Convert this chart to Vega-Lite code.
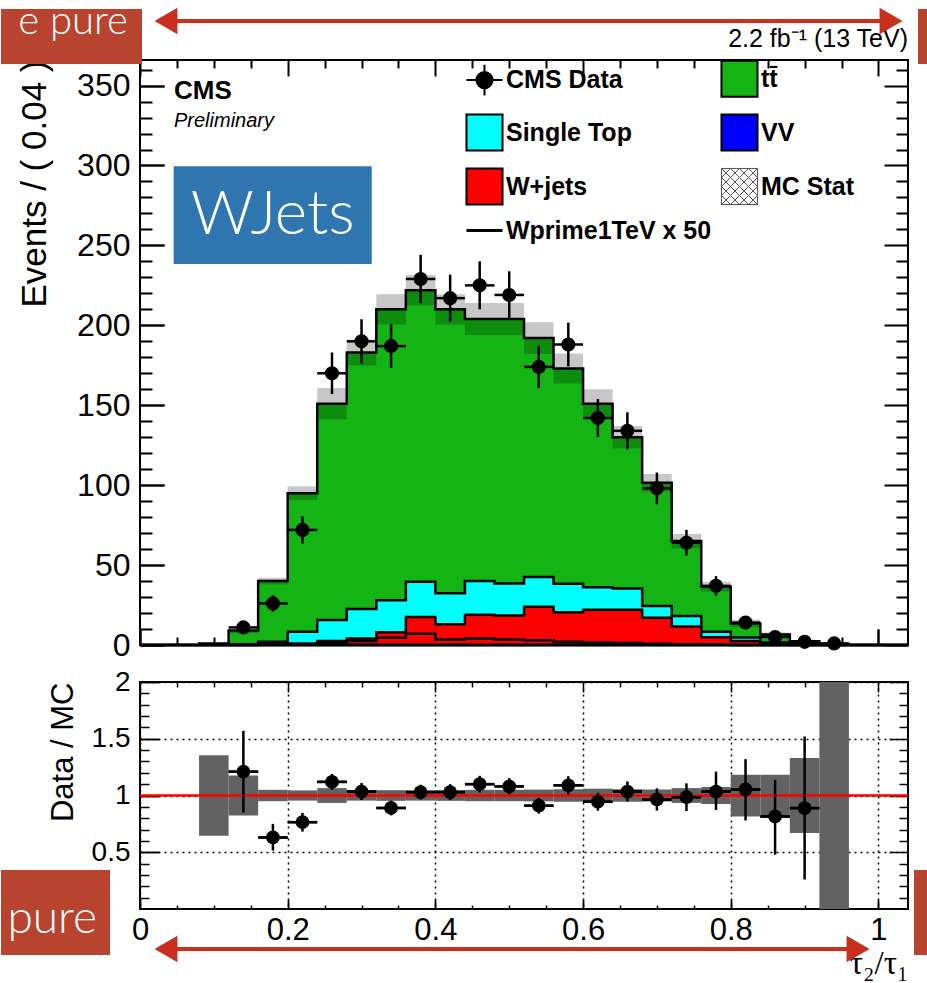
{
"$schema": "https://vega.github.io/schema/vega-lite/v6.json",
"background": "white",
"padding": 0,
"autosize": {"type": "pad"},
"bounds": "flush",
"spacing": 37,
"config": {
  "view": {"stroke": "black", "strokeWidth": 2, "fill": "white"},
  "axis": {"domain": false, "grid": false, "ticks": true, "tickColor": "black", "tickOpacity": 1, "labelColor": "black", "titleColor": "black", "labelFont": "Liberation Sans", "titleFont": "Liberation Sans", "titleFontWeight": "normal", "labelFlush": false, "labelOverlap": false},
  "text": {"font": "Liberation Sans"}
},
"datasets": {
  "hist": [
    {"x":0,"tt":0,"st":0,"wj":0,"vv":0,"wp":0},
    {"x":0.04,"tt":0,"st":0,"wj":0,"vv":0,"wp":0},
    {"x":0.08,"tt":1,"st":0,"wj":0,"vv":0,"wp":0},
    {"x":0.12,"tt":9,"st":0.4,"wj":0.1,"vv":0,"wp":0},
    {"x":0.16,"tt":40,"st":2,"wj":0.3,"vv":0.1,"wp":0.2},
    {"x":0.2,"tt":95,"st":8.3,"wj":1,"vv":0.1,"wp":0.5},
    {"x":0.24,"tt":151,"st":15.6,"wj":2.5,"vv":0.3,"wp":1.2},
    {"x":0.28,"tt":183,"st":22.5,"wj":4,"vv":0.3,"wp":2.5},
    {"x":0.32,"tt":210,"st":28,"wj":8,"vv":0.3,"wp":4.5},
    {"x":0.36,"tt":222,"st":39.5,"wj":17.5,"vv":0.3,"wp":7},
    {"x":0.4,"tt":210,"st":32.3,"wj":13,"vv":0.3,"wp":3.5},
    {"x":0.44,"tt":204,"st":40,"wj":19,"vv":0.3,"wp":4},
    {"x":0.48,"tt":204,"st":38.5,"wj":18.5,"vv":0.3,"wp":3.5},
    {"x":0.52,"tt":192,"st":42.5,"wj":24,"vv":0.3,"wp":3},
    {"x":0.56,"tt":173,"st":38.3,"wj":20.5,"vv":0.3,"wp":2},
    {"x":0.6,"tt":151,"st":36.2,"wj":22,"vv":0.3,"wp":1.5},
    {"x":0.64,"tt":130,"st":35.4,"wj":22,"vv":0.3,"wp":1.2},
    {"x":0.68,"tt":101.5,"st":24.4,"wj":17,"vv":0.3,"wp":0.8},
    {"x":0.72,"tt":65,"st":18.1,"wj":11.5,"vv":0.3,"wp":0.5},
    {"x":0.76,"tt":36.5,"st":8.3,"wj":4.8,"vv":0.2,"wp":0.3},
    {"x":0.8,"tt":13.5,"st":4.7,"wj":2.5,"vv":0.1,"wp":0},
    {"x":0.84,"tt":6.6,"st":1.5,"wj":1,"vv":0.1,"wp":0},
    {"x":0.88,"tt":2.3,"st":0.7,"wj":0.5,"vv":0,"wp":0},
    {"x":0.92,"tt":0.4,"st":0,"wj":0,"vv":0,"wp":0},
    {"x":0.96,"tt":0,"st":0,"wj":0,"vv":0,"wp":0},
    {"x":1,"tt":0,"st":0,"wj":0,"vv":0,"wp":0},
    {"x":1.04,"tt":0,"st":0,"wj":0,"vv":0,"wp":0}
  ],
  "band": [
    {"x0":0.08,"x1":0.12,"lo":0.65,"hi":1.35},
    {"x0":0.12,"x1":0.16,"lo":7.4,"hi":10.6},
    {"x0":0.16,"x1":0.2,"lo":38,"hi":42},
    {"x0":0.2,"x1":0.24,"lo":90.7,"hi":99.3},
    {"x0":0.24,"x1":0.28,"lo":141.2,"hi":160.8},
    {"x0":0.28,"x1":0.32,"lo":175,"hi":191},
    {"x0":0.32,"x1":0.36,"lo":200.5,"hi":219.5},
    {"x0":0.36,"x1":0.4,"lo":212.5,"hi":231.5},
    {"x0":0.4,"x1":0.44,"lo":200.5,"hi":219.5},
    {"x0":0.44,"x1":0.48,"lo":194,"hi":214},
    {"x0":0.48,"x1":0.52,"lo":194,"hi":214},
    {"x0":0.52,"x1":0.56,"lo":182,"hi":202},
    {"x0":0.56,"x1":0.6,"lo":163.6,"hi":182.4},
    {"x0":0.6,"x1":0.64,"lo":142,"hi":160},
    {"x0":0.64,"x1":0.68,"lo":123,"hi":137},
    {"x0":0.68,"x1":0.72,"lo":96,"hi":107},
    {"x0":0.72,"x1":0.76,"lo":60.5,"hi":69.5},
    {"x0":0.76,"x1":0.8,"lo":33.5,"hi":39.5},
    {"x0":0.8,"x1":0.84,"lo":11.1,"hi":15.9},
    {"x0":0.84,"x1":0.88,"lo":5.4,"hi":7.8},
    {"x0":0.88,"x1":0.92,"lo":1.5,"hi":3.1},
    {"x0":0.92,"x1":0.96,"lo":0,"hi":0.8}
  ],
  "pts": [
    {"x":0.14,"n":11,"lo":7.7,"hi":14.3,"x0":0.12,"x1":0.16},
    {"x":0.18,"n":26,"lo":20.9,"hi":31.1,"x0":0.16,"x1":0.2},
    {"x":0.22,"n":72,"lo":63.5,"hi":80.5,"x0":0.2,"x1":0.24},
    {"x":0.26,"n":170,"lo":157,"hi":183,"x0":0.24,"x1":0.28},
    {"x":0.3,"n":190,"lo":176.2,"hi":203.8,"x0":0.28,"x1":0.32},
    {"x":0.34,"n":187,"lo":173.3,"hi":200.7,"x0":0.32,"x1":0.36},
    {"x":0.38,"n":229,"lo":213.9,"hi":244.1,"x0":0.36,"x1":0.4},
    {"x":0.42,"n":217,"lo":202.3,"hi":231.7,"x0":0.4,"x1":0.44},
    {"x":0.46,"n":225,"lo":210,"hi":240,"x0":0.44,"x1":0.48},
    {"x":0.5,"n":219,"lo":204.2,"hi":233.8,"x0":0.48,"x1":0.52},
    {"x":0.54,"n":174,"lo":160.8,"hi":187.2,"x0":0.52,"x1":0.56},
    {"x":0.58,"n":188,"lo":174.3,"hi":201.7,"x0":0.56,"x1":0.6},
    {"x":0.62,"n":142,"lo":130.1,"hi":153.9,"x0":0.6,"x1":0.64},
    {"x":0.66,"n":134,"lo":122.4,"hi":145.6,"x0":0.64,"x1":0.68},
    {"x":0.7,"n":98,"lo":88.1,"hi":107.9,"x0":0.68,"x1":0.72},
    {"x":0.74,"n":64,"lo":56,"hi":72,"x0":0.72,"x1":0.76},
    {"x":0.78,"n":37,"lo":30.9,"hi":43.1,"x0":0.76,"x1":0.8},
    {"x":0.82,"n":14,"lo":10.3,"hi":17.7,"x0":0.8,"x1":0.84},
    {"x":0.86,"n":5,"lo":2.8,"hi":7.2,"x0":0.84,"x1":0.88},
    {"x":0.9,"n":2,"lo":0.6,"hi":3.4,"x0":0.88,"x1":0.92},
    {"x":0.94,"n":1,"lo":0,"hi":2,"x0":0.92,"x1":0.96}
  ],
  "ratio": [
    {"x":0.14,"r":1.21,"lo":0.85,"hi":1.57,"x0":0.12,"x1":0.16},
    {"x":0.18,"r":0.63,"lo":0.515,"hi":0.75,"x0":0.16,"x1":0.2},
    {"x":0.22,"r":0.765,"lo":0.682,"hi":0.847,"x0":0.2,"x1":0.24},
    {"x":0.26,"r":1.12,"lo":1.05,"hi":1.19,"x0":0.24,"x1":0.28},
    {"x":0.3,"r":1.035,"lo":0.96,"hi":1.11,"x0":0.28,"x1":0.32},
    {"x":0.34,"r":0.89,"lo":0.825,"hi":0.955,"x0":0.32,"x1":0.36},
    {"x":0.38,"r":1.03,"lo":0.965,"hi":1.095,"x0":0.36,"x1":0.4},
    {"x":0.42,"r":1.03,"lo":0.96,"hi":1.1,"x0":0.4,"x1":0.44},
    {"x":0.46,"r":1.1,"lo":1.027,"hi":1.173,"x0":0.44,"x1":0.48},
    {"x":0.5,"r":1.08,"lo":1.007,"hi":1.153,"x0":0.48,"x1":0.52},
    {"x":0.54,"r":0.91,"lo":0.84,"hi":0.98,"x0":0.52,"x1":0.56},
    {"x":0.58,"r":1.09,"lo":1.01,"hi":1.17,"x0":0.56,"x1":0.6},
    {"x":0.62,"r":0.945,"lo":0.866,"hi":1.024,"x0":0.6,"x1":0.64},
    {"x":0.66,"r":1.035,"lo":0.946,"hi":1.124,"x0":0.64,"x1":0.68},
    {"x":0.7,"r":0.965,"lo":0.867,"hi":1.063,"x0":0.68,"x1":0.72},
    {"x":0.74,"r":0.985,"lo":0.863,"hi":1.107,"x0":0.72,"x1":0.76},
    {"x":0.78,"r":1.035,"lo":0.873,"hi":1.21,"x0":0.76,"x1":0.8},
    {"x":0.82,"r":1.053,"lo":0.78,"hi":1.32,"x0":0.8,"x1":0.84},
    {"x":0.86,"r":0.815,"lo":0.479,"hi":1.138,"x0":0.84,"x1":0.88},
    {"x":0.9,"r":0.889,"lo":0.26,"hi":1.52,"x0":0.88,"x1":0.92}
  ],
  "rband": [
    {"x0":0.08,"x1":0.12,"lo":0.645,"hi":1.355},
    {"x0":0.12,"x1":0.16,"lo":0.823,"hi":1.176},
    {"x0":0.16,"x1":0.2,"lo":0.95,"hi":1.05},
    {"x0":0.2,"x1":0.24,"lo":0.955,"hi":1.045},
    {"x0":0.24,"x1":0.28,"lo":0.935,"hi":1.065},
    {"x0":0.28,"x1":0.32,"lo":0.955,"hi":1.045},
    {"x0":0.32,"x1":0.36,"lo":0.953,"hi":1.047},
    {"x0":0.36,"x1":0.4,"lo":0.955,"hi":1.045},
    {"x0":0.4,"x1":0.44,"lo":0.953,"hi":1.047},
    {"x0":0.44,"x1":0.48,"lo":0.95,"hi":1.05},
    {"x0":0.48,"x1":0.52,"lo":0.95,"hi":1.05},
    {"x0":0.52,"x1":0.56,"lo":0.948,"hi":1.052},
    {"x0":0.56,"x1":0.6,"lo":0.945,"hi":1.055},
    {"x0":0.6,"x1":0.64,"lo":0.94,"hi":1.06},
    {"x0":0.64,"x1":0.68,"lo":0.945,"hi":1.055},
    {"x0":0.68,"x1":0.72,"lo":0.948,"hi":1.052},
    {"x0":0.72,"x1":0.76,"lo":0.935,"hi":1.065},
    {"x0":0.76,"x1":0.8,"lo":0.925,"hi":1.075},
    {"x0":0.8,"x1":0.84,"lo":0.815,"hi":1.183},
    {"x0":0.84,"x1":0.88,"lo":0.815,"hi":1.183},
    {"x0":0.88,"x1":0.92,"lo":0.67,"hi":1.33},
    {"x0":0.92,"x1":0.96,"lo":0,"hi":2}
  ]
},
"vconcat": [
{
  "width": 768, "height": 585,
  "resolve": {"axis": {"x": "independent", "y": "independent"}},
  "layer": [
    {"data": {"name": "hist"},
     "mark": {"type": "area", "interpolate": "step-after", "stroke": "black", "strokeWidth": 2.5},
     "encoding": {
       "x": {"field": "x", "type": "quantitative", "scale": {"domain": [0,1.04], "nice": false, "zero": false},
             "axis": {"orient": "bottom", "values": [0,0.2,0.4,0.6,0.8,1], "labels": false, "title": null, "tickSize": 16, "offset": -16, "tickWidth": 2}},
       "y": {"field": "tt", "type": "quantitative", "stack": null, "scale": {"domain": [0,366], "nice": false, "zero": false},
             "axis": {"orient": "left", "values": [0,50,100,150,200,250,300,350], "tickSize": 24, "offset": -24, "tickWidth": 2, "labelFontSize": 32, "labelPadding": 10, "title": "Events / ( 0.04 )", "titleFontSize": 35, "titleAnchor": "end", "titlePadding": 24}},
       "color": {"datum": "tt", "type": "nominal",
                 "scale": {"domain": ["data","st","wj","wprime","tt","vv","mcstat"], "range": ["#000000","#00ffff","#ff0000","#000000","#13b413","#0000ff","#ffffff"]},
                 "legend": {"orient": "none", "legendX": 332, "legendY": 6, "columns": 2, "title": null, "padding": 0,
                   "symbolSize": 1300, "symbolStrokeColor": "black", "symbolStrokeWidth": 2,
                   "labelFont": "Liberation Sans", "labelFontSize": 25, "labelFontWeight": "bold", "labelColor": "black",
                   "labelOffset": 9, "labelLimit": 400, "rowPadding": 9, "columnPadding": 5,
                   "labelExpr": "datum.value === 'data' ? 'CMS Data' : datum.value === 'tt' ? 'tt̄' : datum.value === 'st' ? 'Single Top' : datum.value === 'vv' ? 'VV' : datum.value === 'wj' ? 'W+jets' : datum.value === 'mcstat' ? 'MC Stat' : 'Wprime1TeV x 50'",
                   "encode": {"symbols": {"update": {
                     "shape": {"signal": "datum.value === 'data' ? 'M-1,0H1M0,-0.85V0.85M-0.45,0A0.45,0.45,0,1,0,0.45,0A0.45,0.45,0,1,0,-0.45,0Z' : datum.value === 'wprime' ? 'stroke' : datum.value === 'mcstat' ? 'M-1,-1H1V1H-1ZM-1,-0.5L-0.5,-1M-1,0L0,-1M-1,0.5L0.5,-1M-1,1L1,-1M-0.5,1L1,-0.5M0,1L1,0M0.5,1L1,0.5M0.5,-1L1,-0.5M0,-1L1,0M-0.5,-1L1,0.5M-1,-1L1,1M-1,-0.5L0.5,1M-1,0L0,1M-1,0.5L-0.5,1' : 'square'"},
                     "stroke": {"signal": "datum.value === 'mcstat' ? '#555555' : '#000000'"},
                     "strokeWidth": {"signal": "datum.value === 'mcstat' ? 1 : (datum.value === 'wprime' ? 3 : 2)"},
                     "opacity": {"value": 1}
                   }}}
                 }}
     }},
    {"data": {"name": "hist"},
     "mark": {"type": "area", "interpolate": "step-after", "stroke": "black", "strokeWidth": 2.5},
     "encoding": {
       "x": {"field": "x", "type": "quantitative", "scale": {"domain": [0,1.04], "nice": false, "zero": false},
             "axis": {"orient": "bottom", "values": [0,0.2,0.4,0.6,0.8,1], "ticks": false, "labels": false, "title": null, "grid": true, "gridDash": [16,3000], "gridColor": "black", "gridWidth": 2, "gridOpacity": 1}},
       "y": {"field": "st", "type": "quantitative", "stack": null, "scale": {"domain": [0,366], "nice": false, "zero": false},
             "axis": {"orient": "left", "values": [0,50,100,150,200,250,300,350], "ticks": false, "labels": false, "title": null, "grid": true, "gridDash": [24,3000], "gridColor": "black", "gridWidth": 2, "gridOpacity": 1}},
       "color": {"datum": "st", "type": "nominal"}
     }},
    {"data": {"name": "hist"},
     "mark": {"type": "area", "interpolate": "step-after", "stroke": "black", "strokeWidth": 2.5},
     "encoding": {
       "x": {"field": "x", "type": "quantitative", "scale": {"domain": [0,1.04], "nice": false, "zero": false},
             "axis": {"orient": "bottom", "values": [0.05,0.1,0.15,0.25,0.3,0.35,0.45,0.5,0.55,0.65,0.7,0.75,0.85,0.9,0.95], "ticks": false, "labels": false, "title": null, "grid": true, "gridDash": [8,3000], "gridColor": "black", "gridWidth": 2, "gridOpacity": 1}},
       "y": {"field": "wj", "type": "quantitative", "stack": null, "scale": {"domain": [0,366], "nice": false, "zero": false},
             "axis": {"orient": "left", "values": [10,20,30,40,60,70,80,90,110,120,130,140,160,170,180,190,210,220,230,240,260,270,280,290,310,320,330,340,360], "ticks": false, "labels": false, "title": null, "grid": true, "gridDash": [12,3000], "gridColor": "black", "gridWidth": 2, "gridOpacity": 1}},
       "color": {"datum": "wj", "type": "nominal"}
     }},
    {"data": {"name": "hist"},
     "mark": {"type": "area", "interpolate": "step-after", "stroke": "black", "strokeWidth": 2},
     "encoding": {
       "x": {"field": "x", "type": "quantitative", "scale": {"domain": [0,1.04], "nice": false, "zero": false},
             "axis": {"orient": "top", "values": [0,0.2,0.4,0.6,0.8,1], "ticks": false, "labels": false, "title": null, "grid": true, "gridDash": [16,3000], "gridColor": "black", "gridWidth": 2, "gridOpacity": 1}},
       "y": {"field": "vv", "type": "quantitative", "stack": null, "scale": {"domain": [0,366], "nice": false, "zero": false},
             "axis": {"orient": "right", "values": [0,50,100,150,200,250,300,350], "ticks": false, "labels": false, "title": null, "grid": true, "gridDash": [24,3000], "gridColor": "black", "gridWidth": 2, "gridOpacity": 1}},
       "color": {"datum": "vv", "type": "nominal"}
     }},
    {"data": {"name": "band"},
     "mark": {"type": "rect", "color": "#000000", "opacity": 0.22},
     "encoding": {
       "x": {"field": "x0", "type": "quantitative", "scale": {"domain": [0,1.04], "nice": false, "zero": false},
             "axis": {"orient": "top", "values": [0.05,0.1,0.15,0.25,0.3,0.35,0.45,0.5,0.55,0.65,0.7,0.75,0.85,0.9,0.95], "ticks": false, "labels": false, "title": null, "grid": true, "gridDash": [8,3000], "gridColor": "black", "gridWidth": 2, "gridOpacity": 1}},
       "x2": {"field": "x1"},
       "y": {"field": "lo", "type": "quantitative", "scale": {"domain": [0,366], "nice": false, "zero": false},
             "axis": {"orient": "right", "values": [10,20,30,40,60,70,80,90,110,120,130,140,160,170,180,190,210,220,230,240,260,270,280,290,310,320,330,340,360], "ticks": false, "labels": false, "title": null, "grid": true, "gridDash": [12,3000], "gridColor": "black", "gridWidth": 2, "gridOpacity": 1}},
       "y2": {"field": "hi"}
     }},
    {"data": {"name": "hist"},
     "mark": {"type": "line", "interpolate": "step-after", "color": "black", "strokeWidth": 2.5},
     "encoding": {
       "x": {"field": "x", "type": "quantitative", "scale": {"domain": [0,1.04], "nice": false, "zero": false}, "axis": null},
       "y": {"field": "wp", "type": "quantitative", "scale": {"domain": [0,366], "nice": false, "zero": false}, "axis": null}
     }},
    {"data": {"name": "pts"},
     "mark": {"type": "rule", "color": "black", "strokeWidth": 2.5},
     "encoding": {
       "x": {"field": "x", "type": "quantitative", "scale": {"domain": [0,1.04], "nice": false, "zero": false}, "axis": null},
       "y": {"field": "lo", "type": "quantitative", "scale": {"domain": [0,366], "nice": false, "zero": false}, "axis": null},
       "y2": {"field": "hi"}
     }},
    {"data": {"name": "pts"},
     "mark": {"type": "rule", "color": "black", "strokeWidth": 2.5},
     "encoding": {
       "x": {"field": "x0", "type": "quantitative", "scale": {"domain": [0,1.04], "nice": false, "zero": false}, "axis": null},
       "x2": {"field": "x1"},
       "y": {"field": "n", "type": "quantitative", "scale": {"domain": [0,366], "nice": false, "zero": false}, "axis": null}
     }},
    {"data": {"name": "pts"},
     "mark": {"type": "point", "filled": true, "size": 200, "color": "black", "opacity": 1},
     "encoding": {
       "x": {"field": "x", "type": "quantitative", "scale": {"domain": [0,1.04], "nice": false, "zero": false}, "axis": null},
       "y": {"field": "n", "type": "quantitative", "scale": {"domain": [0,366], "nice": false, "zero": false}, "axis": null}
     }},
    {"data": {"values": [{}]},
     "mark": {"type": "text", "text": "CMS", "font": "Liberation Sans", "fontSize": 26, "fontWeight": "bold", "align": "left", "baseline": "alphabetic", "color": "black"},
     "encoding": {
       "x": {"datum": 0.046, "type": "quantitative", "scale": {"domain": [0,1.04], "nice": false, "zero": false}, "axis": null},
       "y": {"datum": 341.6, "type": "quantitative", "scale": {"domain": [0,366], "nice": false, "zero": false}, "axis": null}
     }},
    {"data": {"values": [{}]},
     "mark": {"type": "text", "text": "Preliminary", "font": "Liberation Sans", "fontSize": 20, "fontStyle": "italic", "align": "left", "baseline": "alphabetic", "color": "black"},
     "encoding": {
       "x": {"datum": 0.046, "type": "quantitative", "scale": {"domain": [0,1.04], "nice": false, "zero": false}, "axis": null},
       "y": {"datum": 324.1, "type": "quantitative", "scale": {"domain": [0,366], "nice": false, "zero": false}, "axis": null}
     }},
    {"data": {"values": [{}]},
     "mark": {"type": "text", "text": "2.2 fb⁻¹ (13 TeV)", "font": "Liberation Sans", "fontSize": 25, "align": "right", "baseline": "alphabetic", "color": "black"},
     "encoding": {
       "x": {"datum": 1.04, "type": "quantitative", "scale": {"domain": [0,1.04], "nice": false, "zero": false}, "axis": null},
       "y": {"datum": 374.1, "type": "quantitative", "scale": {"domain": [0,366], "nice": false, "zero": false}, "axis": null}
     }},
    {"data": {"values": [{}]},
     "mark": {"type": "rect", "color": "#2f76b1", "opacity": 1},
     "encoding": {
       "x": {"datum": 0.0456, "type": "quantitative", "scale": {"domain": [0,1.04], "nice": false, "zero": false}, "axis": null},
       "x2": {"datum": 0.3138},
       "y": {"datum": 238.4, "type": "quantitative", "scale": {"domain": [0,366], "nice": false, "zero": false}, "axis": null},
       "y2": {"datum": 299.5}
     }},
    {"data": {"values": [{}]},
     "mark": {"type": "text", "text": "WJets", "font": "Lato", "fontWeight": 300, "fontSize": 62, "align": "center", "baseline": "middle", "color": "white"},
     "encoding": {
       "x": {"datum": 0.1797, "type": "quantitative", "scale": {"domain": [0,1.04], "nice": false, "zero": false}, "axis": null},
       "y": {"datum": 269, "type": "quantitative", "scale": {"domain": [0,366], "nice": false, "zero": false}, "axis": null}
     }},
    {"data": {"values": [{}]},
     "mark": {"type": "rect", "color": "#b8432f", "opacity": 1},
     "encoding": {
       "x": {"datum": -0.1882, "type": "quantitative", "scale": {"domain": [0,1.04], "nice": false, "zero": false}, "axis": null},
       "x2": {"datum": 0.0027},
       "y": {"datum": 363.5, "type": "quantitative", "scale": {"domain": [0,366], "nice": false, "zero": false}, "axis": null},
       "y2": {"datum": 397.9}
     }},
    {"data": {"values": [{}]},
     "mark": {"type": "rect", "color": "#b8432f", "opacity": 1},
     "encoding": {
       "x": {"datum": 1.0535, "type": "quantitative", "scale": {"domain": [0,1.04], "nice": false, "zero": false}, "axis": null},
       "x2": {"datum": 1.0657},
       "y": {"datum": 363.5, "type": "quantitative", "scale": {"domain": [0,366], "nice": false, "zero": false}, "axis": null},
       "y2": {"datum": 397.9}
     }},
    {"data": {"values": [{}]},
     "mark": {"type": "text", "text": "e pure", "font": "Lato", "fontWeight": 300, "fontSize": 40, "align": "right", "baseline": "alphabetic", "color": "white"},
     "encoding": {
       "x": {"datum": -0.0163, "type": "quantitative", "scale": {"domain": [0,1.04], "nice": false, "zero": false}, "axis": null},
       "y": {"datum": 382.3, "type": "quantitative", "scale": {"domain": [0,366], "nice": false, "zero": false}, "axis": null}
     }},
    {"data": {"values": [{}]},
     "mark": {"type": "rule", "color": "#c9301c", "strokeWidth": 4},
     "encoding": {
       "x": {"datum": 0.0352, "type": "quantitative", "scale": {"domain": [0,1.04], "nice": false, "zero": false}, "axis": null},
       "x2": {"datum": 1.017},
       "y": {"datum": 390.4, "type": "quantitative", "scale": {"domain": [0,366], "nice": false, "zero": false}, "axis": null}
     }},
    {"data": {"values": [{}]},
     "mark": {"type": "point", "shape": "triangle-left", "filled": true, "size": 700, "color": "#c9301c", "opacity": 1},
     "encoding": {
       "x": {"datum": 0.0352, "type": "quantitative", "scale": {"domain": [0,1.04], "nice": false, "zero": false}, "axis": null},
       "y": {"datum": 390.4, "type": "quantitative", "scale": {"domain": [0,366], "nice": false, "zero": false}, "axis": null}
     }},
    {"data": {"values": [{}]},
     "mark": {"type": "point", "shape": "triangle-right", "filled": true, "size": 700, "color": "#c9301c", "opacity": 1},
     "encoding": {
       "x": {"datum": 1.017, "type": "quantitative", "scale": {"domain": [0,1.04], "nice": false, "zero": false}, "axis": null},
       "y": {"datum": 390.4, "type": "quantitative", "scale": {"domain": [0,366], "nice": false, "zero": false}, "axis": null}
     }}
  ]
},
{
  "width": 768, "height": 227,
  "resolve": {"axis": {"x": "independent", "y": "independent"}},
  "layer": [
    {"data": {"name": "rband"},
     "mark": {"type": "rect", "color": "#626262", "opacity": 1},
     "encoding": {
       "x": {"field": "x0", "type": "quantitative", "scale": {"domain": [0,1.04], "nice": false, "zero": false},
             "axis": {"orient": "bottom", "values": [0,0.2,0.4,0.6,0.8,1], "format": "~g", "tickSize": 10, "offset": -10, "tickWidth": 1.5, "labelFontSize": 31, "labelPadding": 6, "grid": true, "gridDash": [2,4], "gridColor": "black", "gridWidth": 1.5, "gridOpacity": 1, "title": "τ₂/τ₁", "titleFont": "Liberation Serif", "titleFontSize": 33, "titleAnchor": "end", "titlePadding": 2}},
       "x2": {"field": "x1"},
       "y": {"field": "lo", "type": "quantitative", "scale": {"domain": [0,2], "nice": false, "zero": false},
             "axis": {"orient": "left", "values": [0.5,1,1.5,2], "format": "~g", "tickSize": 19, "offset": -19, "tickWidth": 1.5, "labelFontSize": 28, "labelPadding": 10, "grid": true, "gridDash": [2,4], "gridColor": "black", "gridWidth": 1.5, "gridOpacity": 1, "title": "Data / MC", "titleFontSize": 31, "titleAnchor": "end", "titlePadding": 12}},
       "y2": {"field": "hi"}
     }},
    {"data": {"values": [{}]},
     "mark": {"type": "rule", "color": "#ff0000", "strokeWidth": 2.5},
     "encoding": {
       "y": {"datum": 1, "type": "quantitative", "scale": {"domain": [0,2], "nice": false, "zero": false}, "axis": null}
     }},
    {"data": {"name": "ratio"},
     "mark": {"type": "rule", "color": "black", "strokeWidth": 2.5},
     "encoding": {
       "x": {"field": "x", "type": "quantitative", "scale": {"domain": [0,1.04], "nice": false, "zero": false},
             "axis": {"orient": "bottom", "values": [0,0.2,0.4,0.6,0.8,1], "ticks": false, "labels": false, "title": null, "grid": true, "gridDash": [10,3000], "gridColor": "black", "gridWidth": 1.5, "gridOpacity": 1}},
       "y": {"field": "lo", "type": "quantitative", "scale": {"domain": [0,2], "nice": false, "zero": false},
             "axis": {"orient": "left", "values": [0.5,1,1.5,2], "ticks": false, "labels": false, "title": null, "grid": true, "gridDash": [19,3000], "gridColor": "black", "gridWidth": 1.5, "gridOpacity": 1}},
       "y2": {"field": "hi"}
     }},
    {"data": {"name": "ratio"},
     "mark": {"type": "rule", "color": "black", "strokeWidth": 2.5},
     "encoding": {
       "x": {"field": "x0", "type": "quantitative", "scale": {"domain": [0,1.04], "nice": false, "zero": false},
             "axis": {"orient": "bottom", "values": [0.05,0.1,0.15,0.25,0.3,0.35,0.45,0.5,0.55,0.65,0.7,0.75,0.85,0.9,0.95], "ticks": false, "labels": false, "title": null, "grid": true, "gridDash": [5,3000], "gridColor": "black", "gridWidth": 1.5, "gridOpacity": 1}},
       "x2": {"field": "x1"},
       "y": {"field": "r", "type": "quantitative", "scale": {"domain": [0,2], "nice": false, "zero": false},
             "axis": {"orient": "left", "values": [0.1,0.2,0.3,0.4,0.6,0.7,0.8,0.9,1.1,1.2,1.3,1.4,1.6,1.7,1.8,1.9], "ticks": false, "labels": false, "title": null, "grid": true, "gridDash": [9,3000], "gridColor": "black", "gridWidth": 1.5, "gridOpacity": 1}}
     }},
    {"data": {"name": "ratio"},
     "mark": {"type": "rule", "color": "black", "strokeWidth": 2.5},
     "encoding": {
       "x": {"field": "x0", "type": "quantitative", "scale": {"domain": [0,1.04], "nice": false, "zero": false},
             "axis": {"orient": "top", "values": [0,0.2,0.4,0.6,0.8,1], "ticks": false, "labels": false, "title": null, "grid": true, "gridDash": [8,3000], "gridColor": "black", "gridWidth": 1.5, "gridOpacity": 1}},
       "x2": {"field": "x1"},
       "y": {"field": "r", "type": "quantitative", "scale": {"domain": [0,2], "nice": false, "zero": false},
             "axis": {"orient": "right", "values": [0.5,1,1.5,2], "ticks": false, "labels": false, "title": null, "grid": true, "gridDash": [19,3000], "gridColor": "black", "gridWidth": 1.5, "gridOpacity": 1}}
     }},
    {"data": {"name": "ratio"},
     "mark": {"type": "point", "filled": true, "size": 190, "color": "black", "opacity": 1},
     "encoding": {
       "x": {"field": "x", "type": "quantitative", "scale": {"domain": [0,1.04], "nice": false, "zero": false},
             "axis": {"orient": "top", "values": [0.05,0.1,0.15,0.25,0.3,0.35,0.45,0.5,0.55,0.65,0.7,0.75,0.85,0.9,0.95], "ticks": false, "labels": false, "title": null, "grid": true, "gridDash": [4,3000], "gridColor": "black", "gridWidth": 1.5, "gridOpacity": 1}},
       "y": {"field": "r", "type": "quantitative", "scale": {"domain": [0,2], "nice": false, "zero": false},
             "axis": {"orient": "right", "values": [0.1,0.2,0.3,0.4,0.6,0.7,0.8,0.9,1.1,1.2,1.3,1.4,1.6,1.7,1.8,1.9], "ticks": false, "labels": false, "title": null, "grid": true, "gridDash": [9,3000], "gridColor": "black", "gridWidth": 1.5, "gridOpacity": 1}}
     }},
    {"data": {"values": [{}]},
     "mark": {"type": "rect", "color": "#b8432f", "opacity": 1},
     "encoding": {
       "x": {"datum": -0.1882, "type": "quantitative", "scale": {"domain": [0,1.04], "nice": false, "zero": false}, "axis": null},
       "x2": {"datum": -0.0406},
       "y": {"datum": -0.405, "type": "quantitative", "scale": {"domain": [0,2], "nice": false, "zero": false}, "axis": null},
       "y2": {"datum": 0.3436}
     }},
    {"data": {"values": [{}]},
     "mark": {"type": "text", "text": "pure", "font": "Lato", "fontWeight": 300, "fontSize": 46, "align": "right", "baseline": "alphabetic", "color": "white"},
     "encoding": {
       "x": {"datum": -0.0582, "type": "quantitative", "scale": {"domain": [0,1.04], "nice": false, "zero": false}, "axis": null},
       "y": {"datum": -0.2115, "type": "quantitative", "scale": {"domain": [0,2], "nice": false, "zero": false}, "axis": null}
     }},
    {"data": {"values": [{}]},
     "mark": {"type": "rect", "color": "#b8432f", "opacity": 1},
     "encoding": {
       "x": {"datum": 1.0481, "type": "quantitative", "scale": {"domain": [0,1.04], "nice": false, "zero": false}, "axis": null},
       "x2": {"datum": 1.0657},
       "y": {"datum": -0.405, "type": "quantitative", "scale": {"domain": [0,2], "nice": false, "zero": false}, "axis": null},
       "y2": {"datum": 0.3436}
     }},
    {"data": {"values": [{}]},
     "mark": {"type": "rule", "color": "#c9301c", "strokeWidth": 4},
     "encoding": {
       "x": {"datum": 0.0352, "type": "quantitative", "scale": {"domain": [0,1.04], "nice": false, "zero": false}, "axis": null},
       "x2": {"datum": 0.9723},
       "y": {"datum": -0.352, "type": "quantitative", "scale": {"domain": [0,2], "nice": false, "zero": false}, "axis": null}
     }},
    {"data": {"values": [{}]},
     "mark": {"type": "point", "shape": "triangle-left", "filled": true, "size": 700, "color": "#c9301c", "opacity": 1},
     "encoding": {
       "x": {"datum": 0.0352, "type": "quantitative", "scale": {"domain": [0,1.04], "nice": false, "zero": false}, "axis": null},
       "y": {"datum": -0.352, "type": "quantitative", "scale": {"domain": [0,2], "nice": false, "zero": false}, "axis": null}
     }},
    {"data": {"values": [{}]},
     "mark": {"type": "point", "shape": "triangle-right", "filled": true, "size": 700, "color": "#c9301c", "opacity": 1},
     "encoding": {
       "x": {"datum": 0.9723, "type": "quantitative", "scale": {"domain": [0,1.04], "nice": false, "zero": false}, "axis": null},
       "y": {"datum": -0.352, "type": "quantitative", "scale": {"domain": [0,2], "nice": false, "zero": false}, "axis": null}
     }}
  ]
}
]
}
